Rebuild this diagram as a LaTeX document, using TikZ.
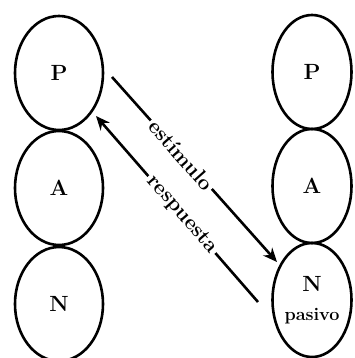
\documentclass[tikz,border=0pt]{standalone}
\usepackage{fontspec}
\usetikzlibrary{shapes.geometric,arrows.meta}
\begin{document}
\begin{tikzpicture}[x=1pt,y=-1pt,
  circ/.style={draw, ellipse, line width=2.6pt, minimum width=88pt, minimum height=114pt, inner sep=0pt,
    font=\bfseries\fontsize{22pt}{29pt}\selectfont},
  rcirc/.style={circ, minimum width=79pt},
  arr/.style={line width=2.6pt, -{Stealth[length=14pt,width=12pt]}},
  lab/.style={sloped, fill=white, inner sep=2.5pt, font=\bfseries\fontsize{21pt}{21pt}\selectfont}]
\useasboundingbox (0,0) rectangle (354,358);
\node[circ] (lp) at (59,73) {P};
\node[circ] (la) at (59,188) {A};
\node[circ] (ln) at (59,304) {N};
\node[rcirc] (rp) at (312,72) {P};
\node[rcirc] (ra) at (312,186) {A};
\node[rcirc, align=center] (rn) at (312,300) {N\\{\fontsize{18pt}{18pt}\selectfont pasivo}};
\coordinate (s1) at (112,77);
\coordinate (t1) at (277,262);
\coordinate (s2) at (258,302);
\coordinate (t2) at (96,116);
\draw[arr] (s1) -- node[lab, pos=0.42] {estímulo} (t1);
\draw[arr] (s2) -- node[lab, pos=0.47] {respuesta} (t2);
\end{tikzpicture}
\end{document}
